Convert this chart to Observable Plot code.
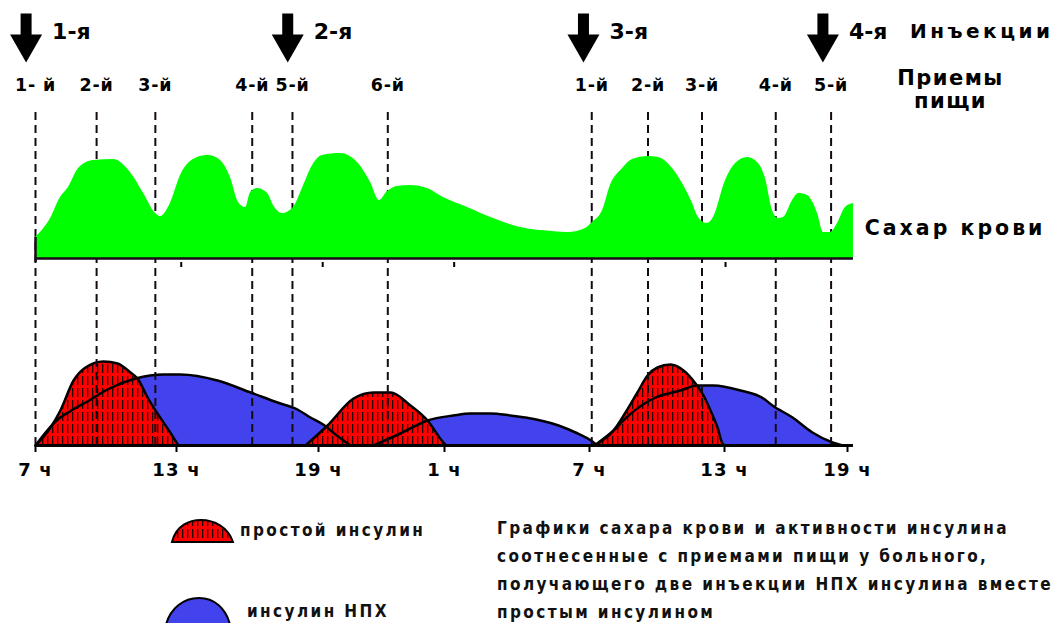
<!DOCTYPE html>
<html><head><meta charset="utf-8">
<script src="https://cdn.jsdelivr.net/npm/d3@7"></script>
<script src="https://cdn.jsdelivr.net/npm/@observablehq/plot@0.6"></script>
<style>
html,body{margin:0;padding:0;background:#fff;overflow:hidden;}
#chart{position:relative;width:1055px;height:623px;overflow:hidden;}
#chart svg{display:block;}
.note{position:absolute;font-family:"DejaVu Sans Condensed","DejaVu Sans",sans-serif;font-weight:bold;font-size:17px;letter-spacing:2.4px;color:#111;white-space:nowrap;}
</style></head><body>
<svg width="0" height="0" style="position:absolute">
  <defs>
    <pattern id="hatch" patternUnits="userSpaceOnUse" width="5" height="12">
      <rect width="5" height="12" fill="#ff0000"></rect>
      <rect x="2" y="0" width="1.3" height="9" fill="#220000"></rect>
    </pattern>
  </defs>
</svg>
<div id="chart">
  <div id="top"></div>
  <div id="sugar"></div>
  <div id="insulin"></div>
  <svg style="position:absolute;left:170px;top:517px" width="66" height="28"><path d="M2,25 C6,8 20,3 31,3 C44,3 58,10 63,25 Z" fill="url(#hatch)" stroke="#000" stroke-width="2"></path></svg>
  <div class="note" style="left:240px;top:520px;">простой инсулин</div>
  <svg style="position:absolute;left:163px;top:595px" width="72" height="35"><path d="M2,34 C6,12 22,3 36,3 C50,3 64,12 68,34 Z" fill="#4343ee" stroke="#000" stroke-width="2"></path></svg>
  <div class="note" style="left:247px;top:601px;">инсулин НПХ</div>
  <div class="note" style="left:497px;top:514px;line-height:28px;">Графики сахара крови и активности инсулина<br>соотнесенные с приемами пищи у больного,<br>получающего две инъекции НПХ инсулина вместе<br>простым инсулином</div>
</div>
<script>
// ---- data ----
const tickHours = [7, 13, 19, 25, 31, 37, 43];
const tickLabels = ["7 ч", "13 ч", "19 ч", "1 ч", "7 ч", "13 ч", "19 ч"];

const injectionHours = [6.6, 17.7, 30.75, 41.8];
const injectionLabels = ["1-я", "2-я", "3-я", "4-я"];

const mealHours = [7.0, 9.6, 12.1, 16.2, 17.9, 22.3, 31.1, 33.6, 36.0, 39.5, 42.2];
const mealLabels = ["1- й", "2-й", "3-й", "4-й", "5-й", "6-й", "1-й", "2-й", "3-й", "4-й", "5-й"];

const sugarHours = [7.0,7.64,8.06,8.40,8.83,9.47,10.32,11.04,11.60,12.11,12.32,12.74,13.17,13.89,14.35,14.86,15.28,15.62,15.92,16.13,16.42,16.85,17.10,17.48,17.94,18.32,18.75,19.19,20.05,20.90,21.48,21.90,22.29,22.76,23.38,24.19,24.95,25.95,27.03,28.14,29.47,30.13,30.83,31.13,31.58,31.93,32.47,32.91,33.62,34.07,34.69,35.13,35.58,35.84,36.24,36.51,37.05,37.54,38.12,38.61,39.00,39.34,39.63,39.88,40.32,40.61,41.05,41.54,41.83,42.17,42.51,42.90,43.29];
const sugarLevels = [21,40,61,71,90,98,99,86,65,45,42,55,83,101,103,98,81,56,51,66,70,65,53,45,51,70,93,103,105,95,76,58,67,72,73,70,61,51,40,31,27,26,30,36,48,73,90,99,102,101,90,75,55,41,35,41,78,95,101,96,80,48,40,41,58,65,63,45,26,26,35,51,55];
const sugarTicks = [13.2, 19.2, 25.4, 37.05];

// insulin activity humps: [hour, activity]
const regularMorning = [[7.0,0],[7.64,18],[8.06,35],[8.62,65],[9.13,78],[9.89,84],[10.49,82],[11.04,73],[11.34,67],[11.77,48],[12.19,32],[12.62,17],[13.08,0]];
const regularEvening = [[18.45,0],[19.43,20],[20.67,47],[21.62,53],[22.43,53],[23.38,40],[24.19,25],[24.95,3],[25.08,0]];
const regularDay2 = [[31.22,0],[32.07,15],[32.6,33],[33.13,53],[33.58,70],[34.02,78],[34.6,81],[35.18,75],[35.71,62],[36.07,50],[36.38,35],[36.69,18],[36.91,2],[37.0,0]];
const nphMorning = [[7.0,0],[7.5,15],[8.0,27],[8.6,36],[9.21,44],[10.06,56],[11.26,67],[12.45,71],[13.17,71],[14.73,65],[16.13,53],[17.27,43],[18.11,36],[18.66,28],[19.29,20],[19.81,11],[20.52,0]];
const nphEvening = [[21.62,0],[22.90,12],[24.19,25],[25.37,30],[26.08,32],[26.90,32],[27.73,30],[28.35,28],[29.72,20],[30.42,13],[31.13,4],[31.36,0]];
const nphDay2 = [[31.22,0],[32.07,15],[32.69,29],[33.84,47],[35.04,55],[35.8,60],[36.51,60],[37.78,55],[38.9,47],[39.34,40],[40.32,28],[41.29,13],[42.27,3],[42.76,0]];

// ---- tables ----
const injections = injectionHours.map((h, i) => ({h, label: injectionLabels[i]}));
const meals = mealHours.map((h, i) => ({h, label: mealLabels[i]}));
const sugar = sugarHours.map((h, i) => ({h, v: sugarLevels[i]}));
const toRows = (arr, dose) => arr.map(([h, v]) => ({h, v, dose}));
const regular = [...toRows(regularMorning, "r1"), ...toRows(regularEvening, "r2"), ...toRows(regularDay2, "r3")];
const nph = [...toRows(nphMorning, "n1"), ...toRows(nphEvening, "n2"), ...toRows(nphDay2, "n3")];

// ---- shared config ----
const W = 1055;
const FONT = "'DejaVu Sans', sans-serif";
const X = {type: "linear", domain: [7, 13, 19, 25, 31, 37, 43], range: [35, 176, 318, 444, 589, 724, 847], label: null};
const baseStyle = {fontFamily: FONT, fontWeight: "bold", background: "transparent", color: "#000"};
const dash = {stroke: "#140a14", strokeWidth: 2, strokeDasharray: "8,5"};
const lastHour = sugarHours[sugarHours.length - 1];

function spacing(svg, texts, value) {
  d3.select(svg).selectAll("text").filter(function () { return texts.includes(this.textContent); }).attr("letter-spacing", value);
}

const arrowSymbol = {
  draw(ctx, size) {
    const k = Math.sqrt(size) / 20;
    ctx.moveTo(-5.5 * k, -31 * k);
    ctx.lineTo(5.5 * k, -31 * k);
    ctx.lineTo(5.5 * k, -10 * k);
    ctx.lineTo(16 * k, -10 * k);
    ctx.lineTo(0, 18 * k);
    ctx.lineTo(-16 * k, -10 * k);
    ctx.lineTo(-5.5 * k, -10 * k);
    ctx.closePath();
  }
};

// ---- top annotations ----
const topPlot = Plot.plot({
  width: W, height: 112, margin: 0,
  x: {...X, axis: null},
  style: baseStyle,
  marks: [
    Plot.dot(injections, {x: "h", frameAnchor: "top", dy: 44, r: 20 / Math.sqrt(Math.PI), symbol: arrowSymbol, fill: "#000"}),
    Plot.text(injections, {x: "h", text: "label", frameAnchor: "top", dy: 23, dx: 26, textAnchor: "start", fontSize: 22, fontWeight: "bold"}),
    Plot.text(["Инъекции"], {frameAnchor: "top-right", dx: -2, dy: 23, textAnchor: "end", fontSize: 20, fontWeight: "bold"}),
    Plot.text(meals, {x: "h", text: "label", frameAnchor: "top", dy: 78, fontSize: 17.5, fontWeight: "bold"}),
    Plot.text(["Приемы"], {frameAnchor: "top-right", dx: -105, dy: 70, textAnchor: "middle", fontSize: 21, fontWeight: "bold"}),
    Plot.text(["пищи"], {frameAnchor: "top-right", dx: -105, dy: 93, textAnchor: "middle", fontSize: 21, fontWeight: "bold"})
  ]
});
spacing(topPlot, ["Инъекции"], 3.5);
spacing(topPlot, ["Приемы", "пищи"], 1.5);
spacing(topPlot, mealLabels, 0.8);
document.getElementById("top").append(topPlot);

// ---- blood sugar ----
const sugarPlot = Plot.plot({
  width: W, height: 156, marginTop: 0, marginBottom: 10, marginLeft: 0, marginRight: 0,
  x: {...X, axis: null},
  y: {domain: [0, 146], range: [146, 0], axis: null},
  style: baseStyle,
  marks: [
    Plot.ruleX(meals, {x: "h", ...dash, insetBottom: -10}),
    Plot.ruleX(sugarTicks, {x: d => d, y1: -4, y2: -9, stroke: "#000", strokeWidth: 2}),
    Plot.areaY(sugar, {x: "h", y: "v", fill: "#00ff00", curve: "monotone-x"}),
    Plot.ruleY([0], {x1: sugarHours[0], x2: lastHour, stroke: "#1a0a1a", strokeWidth: 2.5}),
    Plot.ruleX([sugar[0]], {x: "h", y1: -4, y2: "v", stroke: "#1a0a1a", strokeWidth: 2.5}),
    Plot.text(["Сахар крови"], {frameAnchor: "top-right", dx: -10, dy: 108, textAnchor: "end", fontSize: 20.5, fontWeight: "bold"})
  ]
});
spacing(sugarPlot, ["Сахар крови"], 3);
document.getElementById("sugar").append(sugarPlot);

// ---- insulin activity ----
const insulinPlot = Plot.plot({
  width: W, height: 212, marginTop: 0, marginBottom: 35, marginLeft: 0, marginRight: 0,
  x: {...X},
  y: {domain: [0, 177], range: [177, 0], axis: null},
  style: {...baseStyle, fontSize: "18px"},
  marks: [
    Plot.areaY(nph, {x: "h", y: "v", z: "dose", fill: "#4343ee", curve: "monotone-x"}),
    Plot.areaY(regular, {x: "h", y: "v", z: "dose", fill: "url(#hatch)", curve: "monotone-x"}),
    Plot.line(nph, {x: "h", y: "v", z: "dose", stroke: "#000", strokeWidth: 2.5, curve: "monotone-x"}),
    Plot.line(regular, {x: "h", y: "v", z: "dose", stroke: "#000", strokeWidth: 2.5, curve: "monotone-x"}),
    Plot.ruleX(meals, {x: "h", ...dash}),
    Plot.ruleY([0], {x1: sugarHours[0], x2: lastHour, stroke: "#000", strokeWidth: 3}),
    Plot.axisX(tickHours, {tickFormat: d => tickLabels[tickHours.indexOf(d)], tickSize: 7, tickPadding: 11, strokeWidth: 2, fontSize: 18, fontWeight: "bold", label: null})
  ]
});
spacing(insulinPlot, tickLabels, 1.2);
document.getElementById("insulin").append(insulinPlot);
</script>
</body></html>
